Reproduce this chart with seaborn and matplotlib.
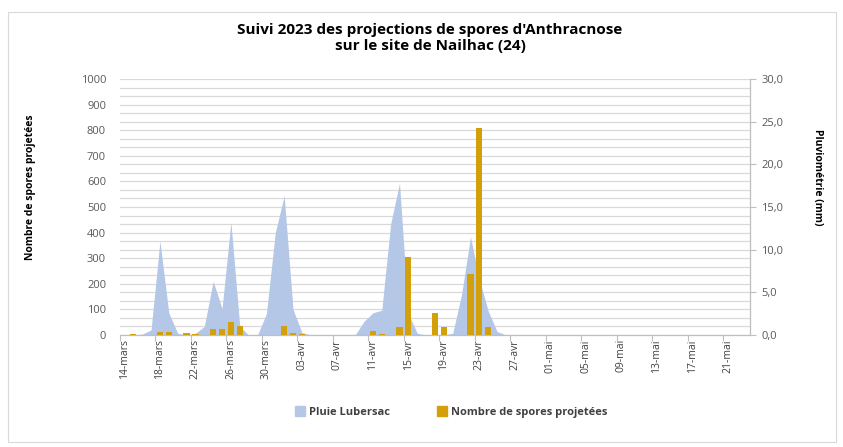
import numpy as np
import pandas as pd
import matplotlib
matplotlib.use("Agg")
import matplotlib.pyplot as plt
from matplotlib.patches import Rectangle
import seaborn as sns

# Daily series, 14 March 2023 onwards
start_date = "2023-03-14"
n_days = 71  # 14-mars .. 23-mai

rain_mm = [0, 0, 0.1, 0.6, 11.0, 2.6, 0.2, 0, 0.2, 1.0,
           6.3, 3.1, 13.2, 1.0, 0, 0, 2.5, 12.0, 16.3, 3.0,
           0.3, 0, 0, 0, 0, 0, 0, 1.6, 2.6, 2.9,
           13.0, 17.8, 2.5, 0.2, 0, 0, 0, 0.2, 4.8, 11.5,
           6.5, 2.8, 0.4, 0]

spores = [0, 5, 0, 0, 12, 12, 0, 7, 4, 0,
          25, 25, 52, 37, 0, 0, 0, 0, 37, 8,
          3, 0, 0, 0, 0, 0, 0, 0, 14, 4,
          0, 33, 303, 0, 0, 87, 30, 0, 0, 238,
          810, 30]

tick_labels = ["14-mars", "18-mars", "22-mars", "26-mars", "30-mars",
               "03-avr", "07-avr", "11-avr", "15-avr", "19-avr", "23-avr",
               "27-avr", "01-mai", "05-mai", "09-mai", "13-mai", "17-mai",
               "21-mai"]

left_ticks = [0, 100, 200, 300, 400, 500, 600, 700, 800, 900, 1000]
right_ticks = [0, 5, 10, 15, 20, 25, 30]

title = "Suivi 2023 des projections de spores d'Anthracnose\nsur le site de Nailhac (24)"
rain_label = "Pluie Lubersac"
spores_label = "Nombre de spores projetées"

# ---- build table ----
dates = pd.date_range(start_date, periods=n_days, freq="D")
rain_full = np.full(n_days, np.nan)
rain_full[:len(rain_mm)] = rain_mm
spores_full = np.full(n_days, np.nan)
spores_full[:len(spores)] = spores
df = pd.DataFrame({"date": dates.strftime("%Y-%m-%d"),
                   "pos": np.arange(n_days),
                   "rain": rain_full,
                   "spores": spores_full})

sns.set_theme(style="white")
plt.rcParams["font.family"] = ["Open Sans", "DejaVu Sans"]

BLUE = "#B4C7E7"
GOLD = "#D4A00A"
GRID = "#D9D9D9"
TXT = "#595959"

fig = plt.figure(figsize=(8.43, 4.47), dpi=100)
ax = fig.add_axes([120 / 843, 1 - 335 / 447, (750 - 120) / 843, (335 - 79) / 447])
ax2 = ax.twinx()

# rain area on the secondary axis (drawn beneath)
ax2.set_axisbelow(True)
ax2.fill_between(df["pos"], df["rain"].fillna(0), 0,
                 color=BLUE, linewidth=0, zorder=2)
ax2.set_ylim(0, 30)
ax2.set_yticks(right_ticks)
ax2.set_yticklabels([f"{v:.1f}".replace(".", ",") for v in right_ticks],
                    fontsize=8, color=TXT)
ax2.set_yticks(np.arange(0, 31, 1), minor=True)
ax2.grid(True, which="both", axis="y", color=GRID, linewidth=0.9, zorder=0)
ax2.tick_params(axis="y", which="major", right=True, length=4, color="#BFBFBF",
                width=0.8, pad=4)
ax2.tick_params(axis="y", which="minor", right=False, length=0)

# spore counts on the primary axis, on top
sns.barplot(data=df, x="date", y="spores", color=GOLD, width=0.7,
            errorbar=None, ax=ax, zorder=3, saturation=1, linewidth=0,
            edgecolor=GOLD)
ax.set_zorder(ax2.get_zorder() + 1)
ax.patch.set_visible(False)
ax.set_ylim(0, 1000)
ax.set_yticks(left_ticks)
ax.set_yticklabels([str(v) for v in left_ticks], fontsize=8, color=TXT)
ax.tick_params(axis="y", left=False, length=0, pad=10)
ax.set_xlim(-0.5, n_days - 0.5)

label_pos = np.arange(0, n_days, 4)[:len(tick_labels)]
ax.set_xticks(label_pos)
ax.set_xticklabels(tick_labels, rotation=90, fontsize=7.5, color="#404040")
ax.tick_params(axis="x", bottom=False, length=0, pad=3)
ax.set_xticks(label_pos - 0.5, minor=True)
ax.tick_params(axis="x", which="minor", bottom=True, length=4, color="#BFBFBF",
               width=0.8)
ax.set_xlabel("")
ax.set_ylabel("")
ax2.set_ylabel("")

for a in (ax, ax2):
    for s in a.spines.values():
        s.set_visible(False)
ax.spines["bottom"].set_visible(True)
ax.spines["bottom"].set_color("#BFBFBF")
ax.spines["bottom"].set_linewidth(0.9)
ax2.spines["right"].set_visible(True)
ax2.spines["right"].set_color("#BFBFBF")
ax2.spines["right"].set_linewidth(0.9)

# titles and axis names
fig.text(430 / 843, 1 - 38 / 447, title, ha="center", va="center",
         fontsize=11, fontweight="bold", color="#000000", linespacing=1.1)
fig.text(30 / 843, 1 - 187 / 447, spores_label, rotation=90, ha="center",
         va="center", fontsize=7.5, fontweight="bold", color="#000000")
fig.text(818 / 843, 1 - 177 / 447, "Pluviométrie (mm)", rotation=-90,
         ha="center", va="center", fontsize=7.5, fontweight="bold",
         color="#000000")

# legend
handles = [Rectangle((0, 0), 1, 1, color=BLUE), Rectangle((0, 0), 1, 1, color=GOLD)]
leg = fig.legend(handles, [rain_label, spores_label], loc="center",
                 bbox_to_anchor=(451 / 843, 1 - 412 / 447), ncol=2, frameon=False,
                 fontsize=8, handlelength=0.9, handleheight=0.9,
                 handletextpad=0.4, columnspacing=4.2)
for t in leg.get_texts():
    t.set_fontweight("bold")
    t.set_color("#404040")

# chart frame
fig.patches.append(Rectangle((8 / 843, 1 - 442 / 447), (836 - 8) / 843,
                             (442 - 12) / 447, transform=fig.transFigure,
                             fill=False, edgecolor="#D9D9D9", linewidth=0.8))

fig.savefig("out.png", dpi=100)
